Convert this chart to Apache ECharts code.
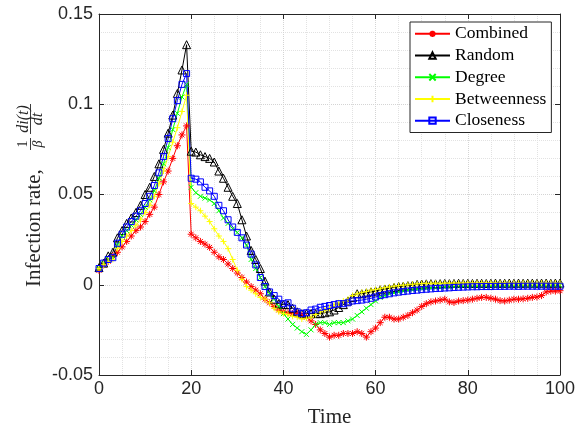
<!DOCTYPE html>
<html>
<head>
<meta charset="utf-8">
<script src="https://cdn.jsdelivr.net/npm/echarts@6.0.0/dist/echarts.min.js"></script>
<style>
    html, body { margin: 0; padding: 0; background: #ffffff; }
    #main { width: 582px; height: 426px; }
</style>
</head>
<body>
<div id="main"></div>
<script>
    var time = [0, 1, 2, 3, 4, 5, 6, 7, 8, 9, 10, 11, 12, 13, 14, 15, 16, 17, 18, 19,
        20, 21, 22, 23, 24, 25, 26, 27, 28, 29, 30, 31, 32, 33, 34, 35, 36, 37, 38, 39,
        40, 41, 42, 43, 44, 45, 46, 47, 48, 49, 50, 51, 52, 53, 54, 55, 56, 57, 58, 59,
        60, 61, 62, 63, 64, 65, 66, 67, 68, 69, 70, 71, 72, 73, 74, 75, 76, 77, 78, 79,
        80, 81, 82, 83, 84, 85, 86, 87, 88, 89, 90, 91, 92, 93, 94, 95, 96, 97, 98, 99, 100];

    var combined = [0.008, 0.011, 0.013, 0.016, 0.018, 0.021, 0.024, 0.027, 0.030, 0.032, 0.035, 0.039, 0.043, 0.050, 0.057, 0.063, 0.070, 0.077, 0.083, 0.088,
        0.028, 0.026, 0.024, 0.0225, 0.0207, 0.018, 0.0155, 0.014, 0.0115, 0.009, 0.0065, 0.004, 0.0015, -0.001, -0.003, -0.005, -0.008, -0.010, -0.012, -0.014,
        -0.015, -0.0155, -0.016, -0.016, -0.017, -0.018, -0.020, -0.022, -0.025, -0.027, -0.029, -0.028, -0.028, -0.027, -0.027, -0.027, -0.026, -0.027, -0.029, -0.026,
        -0.024, -0.021, -0.018, -0.018, -0.019, -0.019, -0.018, -0.017, -0.0155, -0.014, -0.012, -0.0105, -0.0095, -0.009, -0.0085, -0.008, -0.0095, -0.0098, -0.009, -0.0088,
        -0.0085, -0.008, -0.0075, -0.007, -0.007, -0.0075, -0.008, -0.0088, -0.009, -0.0085, -0.008, -0.008, -0.0078, -0.0075, -0.007, -0.0068, -0.006, -0.004, -0.0035, -0.0035, -0.0033];

    var random = [0.0095, 0.012, 0.016, 0.018, 0.026, 0.030, 0.034, 0.037, 0.040, 0.044, 0.050, 0.054, 0.060, 0.067, 0.075, 0.084, 0.094, 0.106, 0.119, 0.133,
        0.074, 0.0735, 0.072, 0.071, 0.070, 0.068, 0.063, 0.059, 0.054, 0.049, 0.045, 0.036, 0.027, 0.019, 0.014, 0.009, 0.002, -0.004, -0.008, -0.0105,
        -0.011, -0.011, -0.013, -0.015, -0.016, -0.016, -0.016, -0.016, -0.016, -0.0155, -0.015, -0.014, -0.0126, -0.011, -0.009, -0.007, -0.005, -0.005, -0.0045, -0.004,
        -0.0035, -0.0028, -0.0024, -0.002, -0.0015, -0.001, -0.0008, -0.0005, -0.0002, 0.0002, 0.0004, 0.0005, 0.0006, 0.0005, 0.0006, 0.0007, 0.0006, 0.0007, 0.0008, 0.0007,
        0.0008, 0.0007, 0.0008, 0.0008, 0.0007, 0.0008, 0.0009, 0.0008, 0.0008, 0.0009, 0.0008, 0.0009, 0.0008, 0.0009, 0.0009, 0.0008, 0.0009, 0.0009, 0.0008, 0.0009, 0.0009];

    var degree = [0.009, 0.012, 0.014, 0.015, 0.022, 0.027, 0.030, 0.033, 0.036, 0.039, 0.043, 0.047, 0.052, 0.059, 0.067, 0.076, 0.086, 0.095, 0.104, 0.111,
        0.054, 0.051, 0.049, 0.048, 0.047, 0.045, 0.041, 0.037, 0.034, 0.031, 0.029, 0.026, 0.022, 0.014, 0.009, 0.004, -0.001, -0.005, -0.008, -0.012,
        -0.016, -0.019, -0.022, -0.024, -0.026, -0.0275, -0.025, -0.022, -0.021, -0.021, -0.022, -0.021, -0.021, -0.021, -0.020, -0.019, -0.017, -0.015, -0.013, -0.011,
        -0.009, -0.007, -0.006, -0.005, -0.0045, -0.004, -0.0035, -0.003, -0.0028, -0.0025, -0.0022, -0.002, -0.0018, -0.0016, -0.0014, -0.0012, -0.0011, -0.001, -0.0009, -0.0008,
        -0.0008, -0.0007, -0.0007, -0.0006, -0.0006, -0.0006, -0.0005, -0.0005, -0.0005, -0.0005, -0.0004, -0.0005, -0.0004, -0.0004, -0.0005, -0.0004, -0.0004, -0.0004, -0.0004, -0.0004, -0.0004];

    var betweenness = [0.009, 0.011, 0.013, 0.014, 0.020, 0.024, 0.027, 0.030, 0.033, 0.036, 0.040, 0.044, 0.049, 0.056, 0.063, 0.071, 0.079, 0.087, 0.096, 0.105,
        0.045, 0.043, 0.041, 0.038, 0.035, 0.031, 0.027, 0.024, 0.020, 0.014, 0.008, 0.003, -0.001, -0.003, -0.005, -0.007, -0.008, -0.010, -0.013, -0.015,
        -0.016, -0.0165, -0.0175, -0.018, -0.019, -0.0185, -0.018, -0.0165, -0.015, -0.014, -0.013, -0.011, -0.010, -0.009, -0.008, -0.006, -0.005, -0.0042, -0.0037, -0.003,
        -0.0026, -0.0022, -0.0016, -0.0012, -0.0008, -0.0005, -0.0002, 0.0, 0.0003, 0.0005, 0.0007, 0.0008, 0.0008, 0.0009, 0.0008, 0.0009, 0.0009, 0.001, 0.0009, 0.001,
        0.001, 0.0009, 0.001, 0.001, 0.0009, 0.001, 0.001, 0.0009, 0.001, 0.001, 0.001, 0.0009, 0.001, 0.001, 0.001, 0.0009, 0.001, 0.001, 0.001, 0.001, 0.001];

    var closeness = [0.009, 0.012, 0.014, 0.015, 0.023, 0.028, 0.032, 0.035, 0.038, 0.041, 0.045, 0.049, 0.055, 0.062, 0.071, 0.081, 0.092, 0.102, 0.111, 0.117,
        0.059, 0.0585, 0.057, 0.054, 0.052, 0.049, 0.044, 0.041, 0.036, 0.032, 0.029, 0.026, 0.022, 0.017, 0.011, 0.004, -0.001, -0.004, -0.006, -0.008,
        -0.0105, -0.010, -0.013, -0.015, -0.016, -0.0155, -0.014, -0.0135, -0.0125, -0.012, -0.0115, -0.011, -0.0105, -0.0105, -0.010, -0.009, -0.0088, -0.0085, -0.008, -0.0075,
        -0.0068, -0.006, -0.0055, -0.005, -0.0045, -0.0041, -0.0038, -0.0035, -0.0032, -0.003, -0.0027, -0.0025, -0.0023, -0.0021, -0.002, -0.0018, -0.0017, -0.0015, -0.0014, -0.0013,
        -0.0012, -0.0011, -0.0011, -0.001, -0.001, -0.001, -0.0009, -0.0009, -0.0009, -0.0008, -0.0008, -0.0009, -0.0008, -0.0008, -0.0008, -0.0008, -0.0008, -0.0008, -0.0008, -0.0008, -0.0008];

    var seriesNames = ['Combined', 'Random', 'Degree', 'Betweenness', 'Closeness'];
    var xTicks = {min: 0, max: 100, interval: 20};
    var yTicks = {min: -0.05, max: 0.15, interval: 0.05};

    // marker shapes, drawn as strokes (like matlab '*', 'x', '+')
    var STAR = 'path://M5,0L5,10M0,5L10,5M1.5,1.5L8.5,8.5M1.5,8.5L8.5,1.5';
    var CROSS = 'path://M0,0L10,10M0,10L10,0';
    var PLUS = 'path://M5,0L5,10M0,5L10,5';

    var AXIS_COLOR = '#262626';

    function pairs(ys) {
        var out = [];
        for (var i = 0; i < ys.length; ++i) {
            out.push([time[i], ys[i]]);
        }
        return out;
    }

    function makeSeries(name, ys, color, symbol, size, fill) {
        return {
            name: name,
            type: 'line',
            data: pairs(ys),
            symbol: symbol,
            symbolSize: size,
            showAllSymbol: true,
            lineStyle: {color: color, width: 1},
            itemStyle: {color: fill, borderColor: color, borderWidth: 1},
            emphasis: {disabled: true},
            animation: false
        };
    }

    var axisCommon = {
        type: 'value',
        axisLine: {show: true, onZero: false, lineStyle: {color: AXIS_COLOR, width: 1}},
        axisTick: {show: true, inside: true, length: 5, lineStyle: {color: AXIS_COLOR}},
        nameMoveOverlap: false
    };

    var option = {
        backgroundColor: '#ffffff',
        animation: false,
        grid: {left: 99, right: 22, top: 14, bottom: 51, outerBoundsMode: 'none', containLabel: false},
        legend: {
            orient: 'vertical',
            left: 410,
            top: 22,
            data: seriesNames,
            itemWidth: 35,
            itemHeight: 8,
            itemGap: 0,
            padding: [1, 5, 1, 4],
            backgroundColor: '#ffffff',
            borderColor: AXIS_COLOR,
            borderWidth: 1,
            borderRadius: 0,
            selectedMode: false,
            textStyle: {fontFamily: 'Liberation Serif', fontSize: 17.5, lineHeight: 21.7, color: '#000000'}
        },
        xAxis: [
            Object.assign({}, axisCommon, {
                position: 'bottom',
                min: xTicks.min, max: xTicks.max, interval: xTicks.interval,
                name: 'Time',
                nameLocation: 'middle',
                nameGap: 32,
                nameTextStyle: {fontFamily: 'Liberation Serif', fontSize: 21, color: AXIS_COLOR},
                axisLabel: {fontFamily: 'Liberation Sans', fontSize: 18, color: AXIS_COLOR, margin: 5},
                splitLine: {show: true, lineStyle: {color: '#d4d4d4', type: 'dotted', width: 1}},
                minorTick: {show: true, splitNumber: 4, length: 0},
                minorSplitLine: {show: true, lineStyle: {color: '#e2e2e2', type: 'dotted', width: 1}}
            }),
            Object.assign({}, axisCommon, {
                position: 'top',
                min: xTicks.min, max: xTicks.max, interval: xTicks.interval,
                axisLabel: {show: false},
                splitLine: {show: false}
            })
        ],
        yAxis: [
            Object.assign({}, axisCommon, {
                position: 'left',
                min: yTicks.min, max: yTicks.max, interval: yTicks.interval,
                axisLabel: {fontFamily: 'Liberation Sans', fontSize: 18, color: AXIS_COLOR, margin: 6},
                splitLine: {show: true, lineStyle: {color: '#d4d4d4', type: 'dotted', width: 1}},
                minorTick: {show: true, splitNumber: 5, length: 0},
                minorSplitLine: {show: true, lineStyle: {color: '#e2e2e2', type: 'dotted', width: 1}}
            }),
            Object.assign({}, axisCommon, {
                position: 'right',
                min: yTicks.min, max: yTicks.max, interval: yTicks.interval,
                axisLabel: {show: false},
                splitLine: {show: false}
            })
        ],
        // y label: "Infection rate, (1/β) di(t)/dt", rotated
        graphic: [{
            type: 'group',
            x: 34,
            y: 287,
            rotation: Math.PI / 2,
            silent: true,
            children: [
                {type: 'text', x: 0, y: 0, style: {text: 'Infection rate,', fontFamily: 'Liberation Serif', fontSize: 21, fill: AXIS_COLOR, align: 'left', verticalAlign: 'middle'}},
                {type: 'text', x: 143, y: -10.5, style: {text: '1', fontFamily: 'Liberation Serif', fontSize: 14, fill: AXIS_COLOR, align: 'center', verticalAlign: 'middle'}},
                {type: 'line', shape: {x1: 137, y1: -3.5, x2: 149, y2: -3.5}, style: {stroke: AXIS_COLOR, lineWidth: 0.9}},
                {type: 'text', x: 143, y: 4, style: {text: 'β', fontFamily: 'Liberation Serif', fontStyle: 'italic', fontSize: 14, fill: AXIS_COLOR, align: 'center', verticalAlign: 'middle'}},
                {type: 'text', x: 168, y: -10.5, style: {text: 'di(t)', fontFamily: 'Liberation Serif', fontStyle: 'italic', fontSize: 16, fill: AXIS_COLOR, align: 'center', verticalAlign: 'middle'}},
                {type: 'line', shape: {x1: 153, y1: -3.5, x2: 183, y2: -3.5}, style: {stroke: AXIS_COLOR, lineWidth: 0.9}},
                {type: 'text', x: 168, y: 4, style: {text: 'dt', fontFamily: 'Liberation Serif', fontStyle: 'italic', fontSize: 16, fill: AXIS_COLOR, align: 'center', verticalAlign: 'middle'}}
            ]
        }],
        series: [
            makeSeries(seriesNames[0], combined, '#ff0000', STAR, 7, '#ff0000'),
            makeSeries(seriesNames[1], random, '#000000', 'triangle', 8, 'rgba(0,0,0,0)'),
            makeSeries(seriesNames[2], degree, '#00ff00', CROSS, 5, '#00ff00'),
            makeSeries(seriesNames[3], betweenness, '#ffff00', PLUS, 6, '#ffff00'),
            makeSeries(seriesNames[4], closeness, '#0000ff', 'rect', 6, 'rgba(0,0,0,0)')
        ]
    };

    var myChart = echarts.init(document.getElementById('main'), null, {renderer: 'canvas'});
    myChart.setOption(option);
</script>
</body>
</html>
